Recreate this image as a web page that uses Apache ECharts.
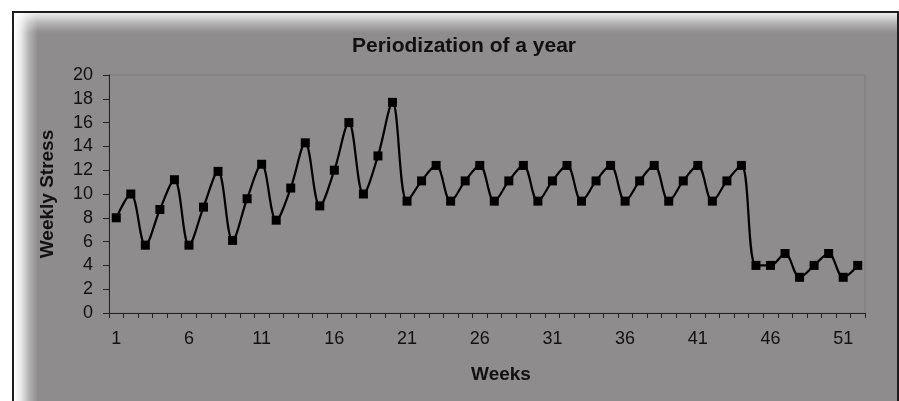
<!DOCTYPE html>
<html>
<head>
<meta charset="utf-8">
<script src="https://cdn.jsdelivr.net/npm/echarts@6/dist/echarts.min.js"></script>
<style>
  html, body { margin: 0; padding: 0; background: #ffffff; }
  #chart { width: 899px; height: 401px; }
</style>
</head>
<body>
<div id="chart"></div>
<script>
// Weekly training stress over a 52-week periodized year
const weeks = Array.from({ length: 52 }, (_, i) => String(i + 1));

const buildUp = [8.0, 10.0, 5.7, 8.7, 11.2, 5.7, 8.9, 11.9, 6.1, 9.6,
                 12.5, 7.8, 10.5, 14.3, 9.0, 12.0, 16.0, 10.0, 13.2, 17.7];
const maintenance = [9.4, 11.1, 12.4, 9.4, 11.1, 12.4, 9.4, 11.1, 12.4, 9.4, 11.1, 12.4,
                     9.4, 11.1, 12.4, 9.4, 11.1, 12.4, 9.4, 11.1, 12.4, 9.4, 11.1, 12.4];
const recovery = [4.0, 4.0, 5.0, 3.0, 4.0, 5.0, 3.0, 4.0];
const stress = buildUp.concat(maintenance, recovery);

const yTicks = { min: 0, max: 20, step: 2 };

const chart = echarts.init(document.getElementById('chart'), null, { renderer: 'canvas' });
const FONT = '"Liberation Sans", Arial, Helvetica, sans-serif';
const GRAY = '#8e8c8d';

chart.setOption({
  animation: false,
  graphic: [
    { type: 'rect', z: -20, shape: { x: 13, y: 12, width: 885, height: 400 },
      style: { fill: GRAY, stroke: '#1e1c1d', lineWidth: 2 } },
    { type: 'rect', z: -19, shape: { x: 14, y: 13, width: 24, height: 388 },
      style: { fill: new echarts.graphic.LinearGradient(0, 0, 1, 0, [
        { offset: 0, color: 'rgba(255,255,255,1)' },
        { offset: 0.3, color: 'rgba(255,255,255,0.8)' },
        { offset: 0.65, color: 'rgba(255,255,255,0.3)' },
        { offset: 1, color: 'rgba(255,255,255,0)' }]) } },
    { type: 'rect', z: -19, shape: { x: 14, y: 13, width: 883, height: 20 },
      style: { fill: new echarts.graphic.LinearGradient(0, 0, 0, 1, [
        { offset: 0, color: 'rgba(255,255,255,0.85)' },
        { offset: 0.5, color: 'rgba(255,255,255,0.35)' },
        { offset: 1, color: 'rgba(255,255,255,0)' }]) } }
  ],
  title: {
    text: 'Periodization of a year',
    left: 459, top: 31, textAlign: 'center',
    textStyle: { fontFamily: FONT, fontSize: 21, fontWeight: 'bold', color: '#111' }
  },
  grid: {
    left: 109, right: 34, top: 75, bottom: 88,
    show: true, borderColor: '#7c7a7b', borderWidth: 1, backgroundColor: 'transparent'
  },
  xAxis: {
    type: 'category',
    data: weeks,
    boundaryGap: true,
    name: 'Weeks',
    nameLocation: 'middle',
    nameGap: 52,
    nameTextStyle: { fontFamily: FONT, fontSize: 19, fontWeight: 'bold', color: '#111', padding: [0, 0, 0, 28] },
    axisLine: { lineStyle: { color: '#222', width: 1 } },
    axisTick: { show: true, interval: 0, length: 5, lineStyle: { color: '#222' } },
    axisLabel: { interval: 4, fontFamily: FONT, fontSize: 18, color: '#111', margin: 17 },
    splitLine: { show: false }
  },
  yAxis: {
    type: 'value',
    min: yTicks.min, max: yTicks.max, interval: yTicks.step,
    name: 'Weekly Stress',
    nameLocation: 'middle',
    nameGap: 52,
    nameRotate: 90,
    nameTextStyle: { fontFamily: FONT, fontSize: 19, fontWeight: 'bold', color: '#111' },
    axisLine: { show: true, lineStyle: { color: '#222', width: 1 } },
    axisTick: { show: true, length: 6, lineStyle: { color: '#222' } },
    axisLabel: { fontFamily: FONT, fontSize: 18, color: '#111', margin: 16 },
    splitLine: { show: false }
  },
  series: [{
    type: 'line',
    data: stress,
    smooth: 0.35,
    symbol: 'rect',
    symbolSize: 9,
    lineStyle: { color: '#000', width: 2.2 },
    itemStyle: { color: '#000' },
    z: 3
  }]
});
</script>
</body>
</html>
